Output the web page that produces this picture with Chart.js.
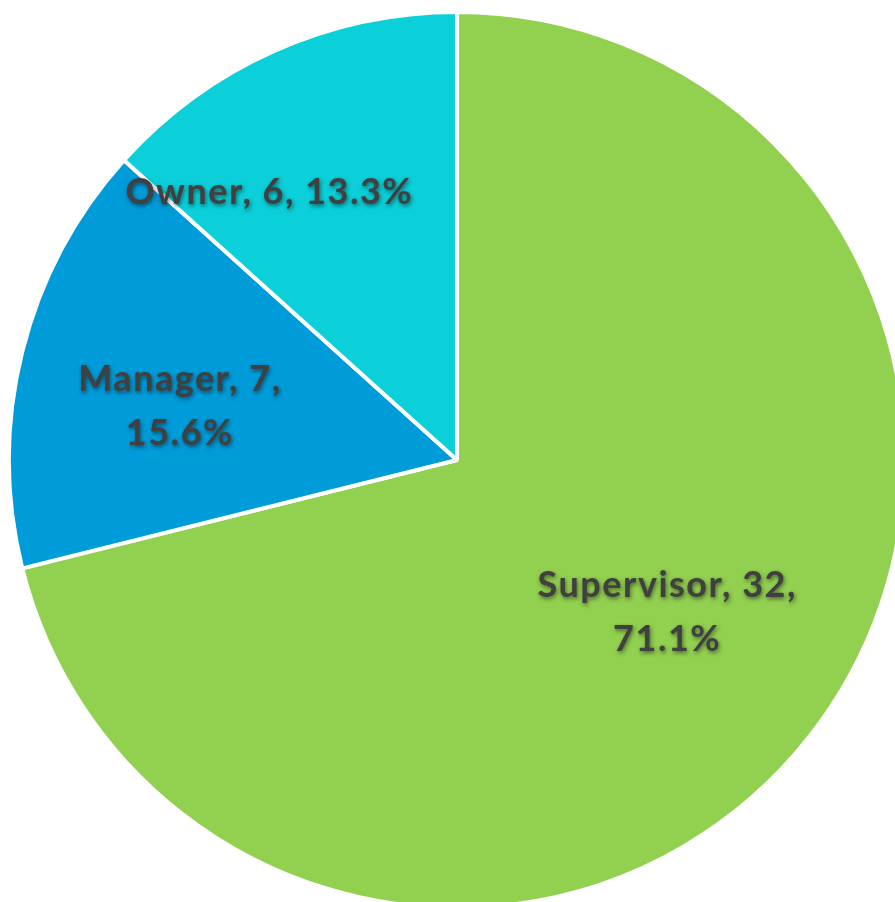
<!DOCTYPE html>
<html>
<head>
<meta charset="utf-8">
<script src="https://cdn.jsdelivr.net/npm/chart.js@4.4.1/dist/chart.umd.min.js"></script>
<style>
  html, body { margin: 0; padding: 0; background: #fff; overflow: hidden; width: 895px; height: 902px; }
  #pie { position: absolute; left: 7px; top: 10px; }
</style>
</head>
<body>
<canvas id="pie" width="900" height="900"></canvas>
<script>
// Role breakdown
const roles = ["Supervisor", "Manager", "Owner"];
const counts = [32, 7, 6];
const sliceColors = ["#92d050", "#009bd9", "#0bcfd9"];

// label placement per slice: fraction of radius, and angle nudge in degrees
const labelRadius = [0.58, 0.63, 0.73];
const labelNudge = [-2, -3, -11];

// Draw "Name, n, p%" labels inside each slice (Excel style)
const sliceLabels = {
  id: "sliceLabels",
  afterDatasetsDraw(chart) {
    const ctx = chart.ctx;
    const meta = chart.getDatasetMeta(0);
    const total = counts.reduce((a, b) => a + b, 0);
    ctx.save();
    ctx.font = "bold 36px Lato";
    ctx.letterSpacing = "1.5px";
    ctx.fillStyle = "#404040";
    ctx.textAlign = "center";
    ctx.textBaseline = "middle";
    ctx.shadowColor = "rgba(0,0,0,0.5)";
    ctx.shadowBlur = 4;
    ctx.shadowOffsetX = 1;
    ctx.shadowOffsetY = 2;
    meta.data.forEach((arc, i) => {
      const mid = (arc.startAngle + arc.endAngle) / 2 + labelNudge[i] * Math.PI / 180;
      const r = arc.outerRadius * labelRadius[i];
      const x = arc.x + Math.cos(mid) * r;
      const y = arc.y + Math.sin(mid) * r;
      const pct = (counts[i] / total * 100).toFixed(1) + "%";
      if (i === 2) {
        ctx.fillText(roles[i] + ", " + counts[i] + ", " + pct, x, y);
      } else {
        ctx.fillText(roles[i] + ", " + counts[i] + ",", x, y - 27);
        ctx.fillText(pct, x, y + 27);
      }
    });
    ctx.restore();
  }
};

new Chart(document.getElementById("pie").getContext("2d"), {
  type: "pie",
  data: {
    labels: roles,
    datasets: [{
      data: counts,
      backgroundColor: sliceColors,
      borderColor: "#ffffff",
      borderWidth: 4
    }]
  },
  options: {
    responsive: false,
    animation: false,
    devicePixelRatio: 1,
    layout: { padding: 0 },
    plugins: {
      legend: { display: false },
      tooltip: { enabled: false }
    }
  },
  plugins: [sliceLabels]
});
</script>
</body>
</html>
